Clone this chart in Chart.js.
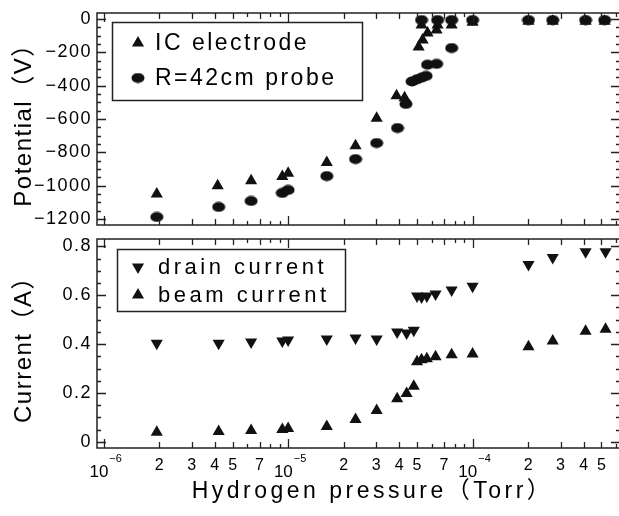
<!DOCTYPE html>
<html><head><meta charset="utf-8">
<script src="https://cdn.jsdelivr.net/npm/chart.js@4.4.0/dist/chart.umd.min.js"></script>
<style>
html,body{margin:0;padding:0;background:#fff;overflow:hidden;width:619px;height:516px;}
#wrap{position:relative;width:619px;height:516px;overflow:hidden;}
canvas{position:absolute;left:0;}
#c1{top:0}
#c2{top:232px}
</style></head><body>
<div id="wrap"><canvas id="c1" width="640" height="232"></canvas><canvas id="c2" width="640" height="284"></canvas></div>
<script>
// ---------- data ----------
const pressureIC = [1.94e-6, 4.15e-6, 6.3e-6, 9.3e-6, 1.0e-5, 1.62e-5, 2.32e-5, 3.02e-5, 3.87e-5, 4.28e-5, 5.1e-5, 5.36e-5, 5.7e-5, 6.38e-5, 5.29e-5, 6.46e-5, 7.7e-5, 1.0e-4, 2.01e-4, 2.72e-4, 4.1e-4, 5.2e-4];
const potentialIC = [-1050, -1000, -970, -945, -925, -860, -760, -595, -461, -473, -169, -127, -85, -67, -37, -37, -37, -20, -15, -15, -15, -15];
const pressureProbe = [1.94e-6, 4.2e-6, 6.3e-6, 9.3e-6, 1.0e-5, 1.62e-5, 2.32e-5, 3.02e-5, 3.92e-5, 4.35e-5, 4.7e-5, 5.0e-5, 5.3e-5, 5.6e-5, 5.7e-5, 6.38e-5, 7.7e-5, 5.29e-5, 6.46e-5, 7.7e-5, 1.0e-4, 2.01e-4, 2.72e-4, 4.1e-4, 5.2e-4];
const potentialProbe = [-1187, -1127, -1091, -1043, -1025, -942, -840, -744, -654, -510, -375, -362, -352, -342, -275, -270, -175, -7, -7, -7, -7, -7, -7, -7, -7];
const pressureCurrent = [1.94e-6, 4.2e-6, 6.3e-6, 9.3e-6, 1.0e-5, 1.62e-5, 2.32e-5, 3.02e-5, 3.9e-5, 4.39e-5, 4.8e-5, 5.0e-5, 5.29e-5, 5.65e-5, 6.3e-5, 7.7e-5, 1.0e-4, 2.01e-4, 2.72e-4, 4.1e-4, 5.26e-4];
const drainCurrent = [0.404, 0.404, 0.409, 0.413, 0.417, 0.421, 0.425, 0.421, 0.45, 0.445, 0.457, 0.597, 0.593, 0.597, 0.605, 0.621, 0.637, 0.726, 0.754, 0.778, 0.778];
const beamCurrent = [0.039, 0.043, 0.047, 0.051, 0.055, 0.063, 0.092, 0.128, 0.176, 0.198, 0.228, 0.328, 0.336, 0.34, 0.348, 0.356, 0.36, 0.389, 0.413, 0.453, 0.461];
const potentialTicks = [0, -200, -400, -600, -800, -1000, -1200];
const currentTicks = [0, 0.2, 0.4, 0.6, 0.8];
const pressureTickLabels = [1e-6, 2e-6, 3e-6, 4e-6, 5e-6, 7e-6, 1e-5, 2e-5, 3e-5, 4e-5, 5e-5, 7e-5, 1e-4, 2e-4, 3e-4, 4e-4, 5e-4];
const seriesNames = ['IC electrode', 'R=42cm probe', 'drain current', 'beam current'];
const axisTitles = ['Potential\uFF08V\uFF09', 'Current\uFF08A\uFF09', 'Hydrogen pressure\uFF08Torr\uFF09'];

// ---------- style ----------
const FONT = '"Liberation Sans", "Noto Sans CJK JP", sans-serif';
const INK = '#000';
const FRAME = '#222';
const X_MIN = 9.2e-7, X_MAX = 6.3e-4;

function ellipseMarker(w, h) {
  const c = document.createElement('canvas');
  c.width = w; c.height = h;
  const g = c.getContext('2d');
  g.fillStyle = '#111';
  g.beginPath();
  g.ellipse(w / 2, h / 2, w / 2 - 0.5, h / 2 - 0.5, 0, 0, 2 * Math.PI);
  g.fill();
  return c;
}
const dot = ellipseMarker(14, 11);

const pts = (xs, ys) => xs.map((x, i) => ({x, y: ys[i]}));

function logTickLen(m, labeled) { return m === 1 ? 9 : (labeled ? 6 : 4); }

const frameTicks = {
  id: 'frameTicks',
  afterDatasetsDraw(chart, args, opts) {
    const {ctx, chartArea: a, scales: {x, y}} = chart;
    ctx.save();
    ctx.strokeStyle = FRAME;
    ctx.lineWidth = 1.3;
    ctx.beginPath();
    for (let d = -7; d <= -3; d++) {
      for (let m = 1; m <= 9; m++) {
        const v = m * Math.pow(10, d);
        if (v < x.min || v > x.max) continue;
        const labeled = pressureTickLabels.some(t => Math.abs(t - v) / v < 1e-6);
        const len = logTickLen(m, labeled);
        const px = Math.round(x.getPixelForValue(v)) + 0.5;
        ctx.moveTo(px, a.bottom); ctx.lineTo(px, a.bottom - len);
        ctx.moveTo(px, a.top); ctx.lineTo(px, a.top + len);
      }
    }
    const k0 = Math.ceil(y.min / opts.minor - 1e-9), k1 = Math.floor(y.max / opts.minor + 1e-9);
    for (let k = k0; k <= k1; k++) {
      const v = k * opts.minor;
      const r = v / opts.major;
      const major = Math.abs(r - Math.round(r)) < 1e-6;
      const len = major ? 9 : 4;
      const py = Math.round(y.getPixelForValue(v)) + 0.5;
      ctx.moveTo(a.left, py); ctx.lineTo(a.left + len, py);
      ctx.moveTo(a.right, py); ctx.lineTo(a.right - len, py);
    }
    ctx.stroke();
    ctx.lineWidth = 1.5;
    ctx.strokeRect(a.left, a.top, a.right - a.left, a.bottom - a.top);
    ctx.restore();
  }
};

const boxLegend = {
  id: 'boxLegend',
  afterDraw(chart, args, opts) {
    const {ctx, chartArea: a} = chart;
    ctx.save();
    const bx = a.left + opts.dx, by = a.top + opts.dy;
    ctx.strokeStyle = FRAME;
    ctx.lineWidth = 1.5;
    ctx.strokeRect(bx + 0.5, by + 0.5, opts.w, opts.h);
    ctx.font = opts.fontSize + 'px ' + FONT;
    ctx.letterSpacing = opts.spacing + 'px';
    ctx.textBaseline = 'middle';
    ctx.textAlign = 'left';
    chart.data.datasets.forEach((ds, i) => {
      const yy = by + opts.rows[i];
      ctx.fillStyle = '#111';
      Chart.helpers.drawPoint(ctx, {pointStyle: ds.pointStyle, rotation: ds.rotation || 0, radius: ds.pointRadius, borderWidth: 0}, bx + opts.markerX, yy);
      ctx.fillStyle = INK;
      ctx.fillText(ds.label, bx + opts.textX, yy + 1);
    });
    ctx.restore();
  }
};

const spacingPlugin = {
  id: 'spacing',
  beforeDraw(chart, args, opts) { chart.ctx.letterSpacing = (opts.px || 0) + 'px'; }
};

const xLabels = {
  id: 'xLabels',
  afterDraw(chart) {
    const {ctx, chartArea: a, scales: {x}} = chart;
    ctx.save();
    ctx.fillStyle = INK;
    ctx.textBaseline = 'alphabetic';
    ctx.letterSpacing = '0px';
    pressureTickLabels.forEach(v => {
      const px = x.getPixelForValue(v);
      const e = Math.floor(Math.log10(v) + 1e-9);
      const mant = Math.round(v / Math.pow(10, e));
      if (mant === 1) {
        ctx.font = '17px ' + FONT;
        const w1 = ctx.measureText('10').width;
        ctx.font = '11px ' + FONT;
        const sup = '\u2212' + (-e);
        const w2 = ctx.measureText(sup).width;
        const start = px - (w1 + w2 + 1) / 2 + 2;
        ctx.textAlign = 'left';
        ctx.font = '17px ' + FONT;
        ctx.fillText('10', start, a.bottom + 29);
        ctx.font = '11px ' + FONT;
        ctx.fillText(sup, start + w1 + 1, a.bottom + 14);
      } else {
        ctx.textAlign = 'center';
        ctx.font = '16px ' + FONT;
        ctx.fillText(String(mant), px, a.bottom + 22);
      }
    });
    // axis title
    ctx.font = '23px ' + FONT;
    ctx.letterSpacing = '3.5px';
    ctx.textAlign = 'center';
    ctx.fillText(axisTitles[2], (a.left + a.right) / 2 + 14, a.bottom + 50);
    ctx.restore();
  }
};

const common = {
  responsive: false,
  animation: false,
  events: [],
  showLine: false,
};

function yAxis(min, max, ticks, fmt, title) {
  return {
    type: 'linear', position: 'left', min, max,
    afterFit: s => { s.width = 97; s.paddingTop = 0; s.paddingBottom = 0; },
    afterBuildTicks: s => { s.ticks = ticks.map(v => ({value: v})); },
    grid: {display: false, drawTicks: false},
    border: {display: false},
    ticks: {autoSkip: false, padding: 5, color: INK, font: {family: FONT, size: 18}, callback: fmt},
    title: {display: true, text: title, color: INK, font: {family: FONT, size: 24}, padding: {top: 10, bottom: 0}}
  };
}

Chart.defaults.color = INK;

new Chart(document.getElementById('c1'), {
  type: 'scatter',
  data: {
    datasets: [
      {label: seriesNames[0], data: pts(pressureIC, potentialIC), pointStyle: 'triangle', pointRadius: 7, backgroundColor: '#111', borderWidth: 0},
      {label: seriesNames[1], data: pts(pressureProbe, potentialProbe), pointStyle: dot, pointRadius: 6, backgroundColor: '#111', borderWidth: 0}
    ]
  },
  options: Object.assign({}, common, {
    layout: {padding: {left: 0, right: 20, top: 13, bottom: 7}},
    scales: {
      x: {type: 'logarithmic', min: X_MIN, max: X_MAX, display: false},
      y: yAxis(-1235, 35, potentialTicks, v => v === 0 ? '0' : String(v).replace('-', '\u2212'), axisTitles[0])
    },
    plugins: {
      legend: {display: false}, tooltip: {enabled: false},
      spacing: {px: 1.5},
      frameTicks: {minor: 50, major: 200},
      boxLegend: {dx: 15, dy: 9, w: 250, h: 78, rows: [21, 56], markerX: 26, textX: 43, fontSize: 23, spacing: 2.5}
    }
  }),
  plugins: [spacingPlugin, frameTicks, boxLegend]
});

new Chart(document.getElementById('c2'), {
  type: 'scatter',
  data: {
    datasets: [
      {label: seriesNames[2], data: pts(pressureCurrent, drainCurrent), pointStyle: 'triangle', rotation: 180, pointRadius: 7, backgroundColor: '#111', borderWidth: 0},
      {label: seriesNames[3], data: pts(pressureCurrent, beamCurrent), pointStyle: 'triangle', pointRadius: 7, backgroundColor: '#111', borderWidth: 0}
    ]
  },
  options: Object.assign({}, common, {
    layout: {padding: {left: 0, right: 20, top: 3, bottom: 0}},
    scales: {
      x: {
        type: 'logarithmic', min: X_MIN, max: X_MAX, position: 'bottom',
        afterFit: s => { s.height = 68; s.paddingLeft = 0; s.paddingRight = 0; },
        grid: {display: false, drawTicks: false}, border: {display: false},
        ticks: {display: false},
        title: {display: false}
      },
      y: yAxis(-0.025, 0.83, currentTicks, v => v === 0 ? '0' : v.toFixed(1), axisTitles[1])
    },
    plugins: {
      legend: {display: false}, tooltip: {enabled: false},
      spacing: {px: 1.5},
      frameTicks: {minor: 0.05, major: 0.2},
      boxLegend: {dx: 20, dy: 10, w: 228, h: 62, rows: [18, 46], markerX: 21, textX: 41, fontSize: 22, spacing: 3.5}
    }
  }),
  plugins: [spacingPlugin, frameTicks, boxLegend, xLabels]
});
</script>
</body></html>
